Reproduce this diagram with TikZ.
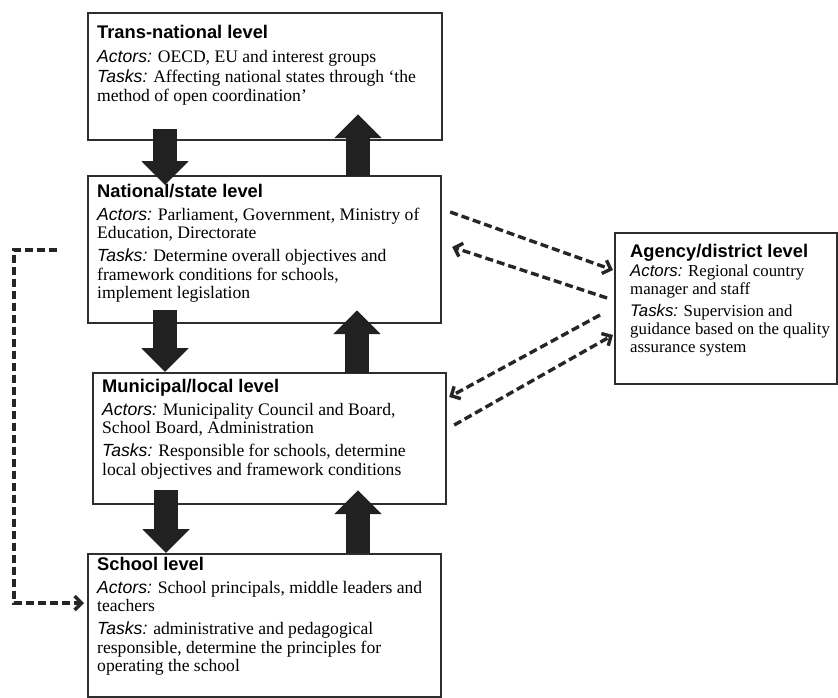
\documentclass[tikz,border=0pt]{standalone}
\usepackage{fontspec}
\setmainfont{Liberation Serif}
\setsansfont{Liberation Sans}
\usetikzlibrary{arrows.meta,calc}
\newcommand\mytitle[1]{{\fontsize{18.3}{18.5}\selectfont\sffamily\bfseries #1}}
\newcommand\mylabel[1]{{\sffamily\itshape #1}}
\begin{document}
\begin{tikzpicture}[x=1pt,y=-1pt,
  box/.style={draw=black!82, line width=2.2pt, anchor=north west, inner sep=0pt},
  txt/.style={anchor=north west, inner sep=0pt, align=left, font=\fontsize{17.6}{18.7}\selectfont},
  blk/.style={line width=24pt, draw=black!87, -{Triangle[length=24pt,width=46pt]}},
  dsh/.style={line width=3.4pt, draw=black!85, dash pattern=on 8pt off 4pt, -{Straight Barb[length=7pt,width=14pt]}}
]
\useasboundingbox (0,0) rectangle (838,697);

% boxes
\node[box, minimum width=354pt, minimum height=127pt] (b1) at (87,12) {};
\node[box, minimum width=353pt, minimum height=147pt] (b2) at (87,175) {};
\node[box, minimum width=353pt, minimum height=131pt] (b3) at (92,372) {};
\node[box, minimum width=353pt, minimum height=143pt] (b4) at (87,553) {};
\node[box, minimum width=222pt, minimum height=151pt] (ag) at (614,232) {};

% block arrows
\draw[blk] ($(b1.south west)+(78,-12)$) -- ($(b2.north west)+(78,10)$);
\draw[blk] ($(b2.north west)+(271,1)$) -- ($(b1.south west)+(271,-27)$);
\draw[blk] ($(b2.south west)+(78,-14)$) -- ($(b3.north west)+(73,0)$);
\draw[blk] ($(b3.north west)+(265,1)$) -- ($(b2.south west)+(270,-14)$);
\draw[blk] ($(b3.south west)+(74,-15)$) -- ($(b4.north west)+(79,0)$);
\draw[blk] ($(b4.north west)+(271,0)$) -- ($(b3.south west)+(266,-15)$);

% texts
\node[txt] (t1) at (97,25) {\mytitle{Trans-national level}\\[5pt]
\mylabel{Actors:} OECD, EU and interest groups\\[1.5pt]
\mylabel{Tasks:} Affecting national states through ‘the\\
method of open coordination’};

\node[txt] (t2) at (97,184) {\mytitle{National/state level}\\[4pt]
\mylabel{Actors:} Parliament, Government, Ministry of\\
Education, Directorate\\[4pt]
\mylabel{Tasks:} Determine overall objectives and\\
framework conditions for schools,\\
implement legislation};

\node[txt] (t3) at (102,379) {\mytitle{Municipal/local level}\\[4pt]
\mylabel{Actors:} Municipality Council and Board,\\
School Board, Administration\\[4pt]
\mylabel{Tasks:} Responsible for schools, determine\\
local objectives and framework conditions};

\node[txt] (t4) at (97,557) {\mytitle{School level}\\[4pt]
\mylabel{Actors:} School principals, middle leaders and\\
teachers\\[4pt]
\mylabel{Tasks:} administrative and pedagogical\\
responsible, determine the principles for\\
operating the school};

\node[txt, font=\fontsize{16.8}{18.2}\selectfont] (t5) at (630,244) {\mytitle{Agency/district level}\\[1pt]
\mylabel{Actors:} Regional country\\
manager and staff\\[3.5pt]
\mylabel{Tasks:} Supervision and\\
guidance based on the quality\\
assurance system};

% dashed connectors
\coordinate (d1s) at ($(b2.north east)+(8,37)$);
\coordinate (d1e) at ($(ag.north west)+(-1,38)$);
\coordinate (d2s) at ($(ag.north west)+(-7,66)$);
\coordinate (d2e) at ($(b2.north east)+(10,72)$);
\coordinate (d3s) at ($(ag.north west)+(-14,83)$);
\coordinate (d3e) at ($(b3.north east)+(2,25)$);
\coordinate (d4s) at ($(b3.north east)+(7,53)$);
\coordinate (d4e) at ($(ag.north west)+(-1,103)$);
\draw[dsh] (d1s) -- (d1e);
\draw[dsh] (d2s) -- (d2e);
\draw[dsh] (d3s) -- (d3e);
\draw[dsh] (d4s) -- (d4e);

\coordinate (ls) at ($(b2.north west)+(-30,75)$);
\coordinate (le) at ($(b4.north west)+(-3,50)$);
\draw[dsh] (ls) -- ++(-43,0) |- (le);
\end{tikzpicture}
\end{document}
